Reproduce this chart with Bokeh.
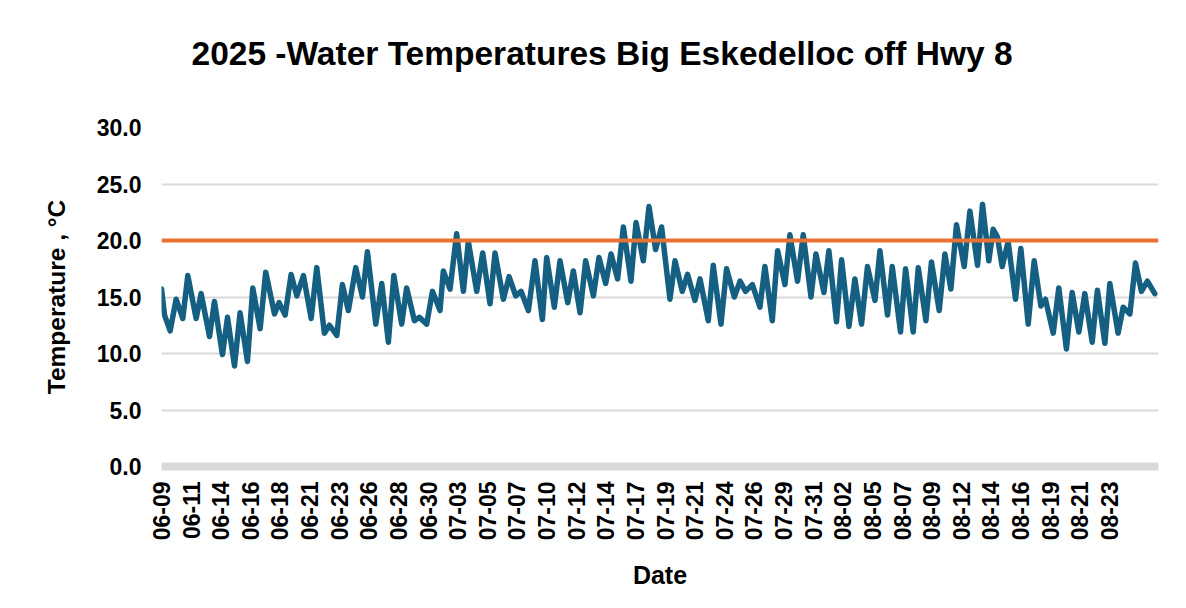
import math
from bokeh.plotting import figure
from bokeh.models import FixedTicker, NumeralTickFormatter, Span, Range1d, Title
from bokeh.embed import file_html
from bokeh.resources import INLINE

# ---- data ----
# time of each reading, in days after the first reading (06-09)
day = [0.0, 0.24, 0.68, 1.15, 1.68, 2.07, 2.73, 3.12, 3.78, 4.17, 4.80, 5.20, 5.75, 6.19, 6.77, 7.19, 7.77, 8.21, 8.90,
       9.26, 9.74, 10.21, 10.66, 11.18, 11.79, 12.23, 12.83, 13.23, 13.81, 14.25, 14.72, 15.30, 15.83, 16.22, 16.88, 17.35, 17.87,
       18.30, 18.92, 19.31, 19.92, 20.31, 20.89, 21.34, 21.94, 22.20, 22.73, 23.25, 23.78, 24.17, 24.83, 25.30, 25.88, 26.27, 26.93, 27.38,
       27.90, 28.32, 28.90, 29.42, 30.00, 30.34, 30.94, 31.39, 32.00, 32.44, 32.97, 33.41, 34.02, 34.46, 34.99, 35.41, 35.93, 36.38, 36.98, 37.38,
       37.95, 38.40, 38.92, 39.39, 40.05, 40.45, 41.02, 41.44, 42.02, 42.42, 43.07, 43.46, 44.07, 44.51, 45.12, 45.57, 46.01, 46.54,
       47.14, 47.53, 48.11, 48.53, 49.11, 49.50, 50.10, 50.55, 51.16, 51.55, 52.18, 52.57, 53.17, 53.57, 54.15, 54.62, 55.14, 55.61, 56.20,
       56.59, 57.19, 57.56, 58.21, 58.61, 59.21, 59.61, 60.21, 60.65, 61.26, 61.71, 62.18, 62.62, 63.23, 63.68, 64.28, 64.67, 65.17, 65.51,
       65.85, 66.22, 66.69, 67.27, 67.69, 68.27, 68.74, 69.27, 69.63, 70.24, 70.68, 71.28, 71.73, 72.26, 72.73, 73.31, 73.72, 74.31, 74.70,
       75.35, 75.75, 76.28, 76.72, 77.19, 77.66, 78.24]
temp_c = [15.7, 13.4, 12.0, 14.8, 13.1, 16.9, 13.1, 15.3, 11.5, 14.6, 9.9, 13.2, 8.9, 13.6, 9.3, 15.8, 12.2, 17.2, 13.5,
          14.5, 13.4, 17.0, 15.1, 16.9, 13.1, 17.6, 11.8, 12.5, 11.6, 16.1, 13.8, 17.6, 15.0, 19.0, 12.6, 16.2, 11.0,
          16.9, 12.6, 15.8, 12.9, 13.2, 12.6, 15.5, 13.8, 17.3, 15.7, 20.6, 15.5, 19.9, 15.5, 18.9, 14.4, 18.9, 14.8, 16.8,
          15.1, 15.5, 13.8, 18.2, 13.0, 18.5, 14.1, 18.2, 14.5, 17.3, 13.6, 18.2, 15.1, 18.5, 16.2, 18.8, 16.6, 21.2, 16.4, 21.6,
          18.2, 23.0, 19.2, 21.2, 14.8, 18.2, 15.5, 17.0, 14.7, 16.6, 12.9, 17.8, 12.6, 17.5, 15.0, 16.4, 15.5, 16.1,
          14.1, 17.7, 12.9, 19.1, 16.1, 20.5, 16.4, 20.5, 15.0, 18.8, 15.4, 19.1, 12.8, 18.3, 12.4, 16.6, 12.6, 17.7, 14.7,
          19.1, 13.4, 17.7, 11.9, 17.5, 11.9, 17.6, 12.9, 18.1, 13.8, 18.8, 15.7, 21.4, 17.7, 22.6, 17.8, 23.2, 18.2, 21.0,
          20.3, 17.7, 19.9, 14.8, 19.3, 12.6, 18.2, 14.2, 14.8, 11.8, 15.8, 10.4, 15.4, 11.9, 15.3, 11.0, 15.6, 10.9, 16.2,
          11.8, 14.1, 13.5, 18.0, 15.5, 16.4, 15.3]
threshold_c = 20.0
readings_per_day = 3          # one reading every 8 hours
label_every = 7               # category-axis label interval (readings)
tick_labels = ["06-09", "06-11", "06-14", "06-16", "06-18", "06-21", "06-23", "06-26", "06-28", "06-30",
               "07-03", "07-05", "07-07", "07-10", "07-12", "07-14", "07-17", "07-19", "07-21", "07-24",
               "07-26", "07-29", "07-31", "08-02", "08-05", "08-07", "08-09", "08-12", "08-14", "08-16",
               "08-19", "08-21", "08-23"]
y_ticks = [0, 5, 10, 15, 20, 25, 30]

x = [d * readings_per_day for d in day]
tick_pos = [i * label_every for i in range(len(tick_labels))]

FONT = "Liberation Sans"

p = figure(width=1170, height=592, output_backend="svg", toolbar_location=None,
           x_range=Range1d(0, 235.6), y_range=Range1d(0, 30),
           min_border_left=161, min_border_right=12, min_border_top=127, min_border_bottom=121,
           title="2025 -Water Temperatures Big Eskedelloc off Hwy 8")

p.outline_line_color = None
p.title.text_font = FONT
p.title.text_font_size = "33.5px"
p.title.text_font_style = "bold"
p.title.text_color = "#000000"
p.title.align = "left"
p.title.offset = 30
p.title.standoff = 10

# blank spacer between the title and the plot area
p.add_layout(Title(text=" ", text_font_size="10px", standoff=38), "above")

# grid
p.xgrid.grid_line_color = None
p.ygrid.ticker = FixedTicker(ticks=y_ticks)
p.ygrid.grid_line_color = "#d9d9d9"
p.ygrid.grid_line_width = 2

# y axis
ya = p.yaxis[0]
ya.ticker = FixedTicker(ticks=y_ticks)
ya.formatter = NumeralTickFormatter(format="0.0")
ya.axis_line_color = None
ya.major_tick_line_color = None
ya.minor_tick_line_color = None
ya.major_label_standoff = 14
ya.major_label_text_font = FONT
ya.major_label_text_font_style = "bold"
ya.major_label_text_font_size = "23px"
ya.major_label_text_color = "#000000"
ya.axis_label = "Temperature , °C"
ya.axis_label_text_font = FONT
ya.axis_label_text_font_style = "bold"
ya.axis_label_text_font_size = "24.5px"
ya.axis_label_text_color = "#000000"
ya.axis_label_standoff = 24

# x axis
xa = p.xaxis[0]
xa.ticker = FixedTicker(ticks=tick_pos)
xa.major_label_overrides = {t: lab for t, lab in zip(tick_pos, tick_labels)}
xa.major_label_orientation = math.pi / 2
xa.axis_line_color = "#d9d9d9"
xa.axis_line_width = 8
xa.major_tick_line_color = None
xa.minor_tick_line_color = None
xa.major_label_standoff = 9
xa.major_label_text_font = FONT
xa.major_label_text_font_style = "bold"
xa.major_label_text_font_size = "23px"
xa.major_label_text_color = "#000000"
xa.axis_label = "Date"
xa.axis_label_text_font = FONT
xa.axis_label_text_font_style = "bold"
xa.axis_label_text_font_size = "25px"
xa.axis_label_text_color = "#000000"
xa.axis_label_standoff = 18

# threshold line
p.add_layout(Span(location=threshold_c, dimension="width", line_color="#E97132", line_width=4))

# temperature series
p.line(x, temp_c, line_color="#156082", line_width=5.5, line_join="round", line_cap="round")

open("out.html", "w").write(file_html(p, INLINE))
